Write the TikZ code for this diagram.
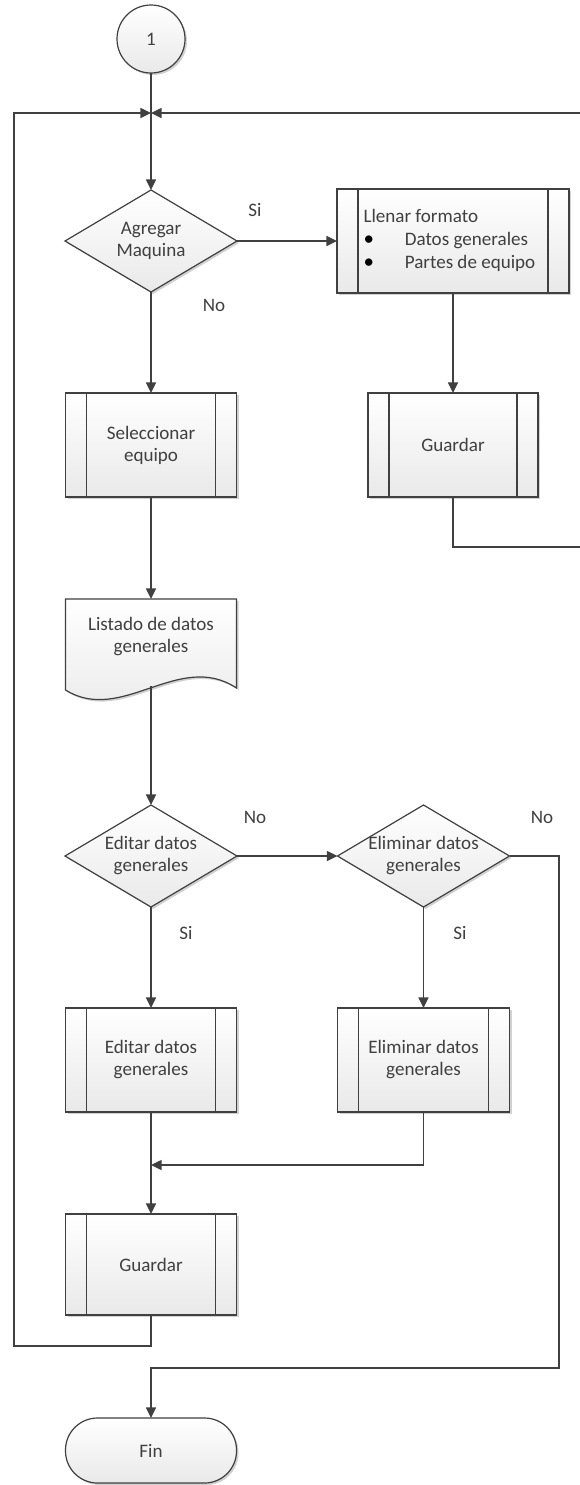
\documentclass[tikz,border=0pt]{standalone}
\usepackage{fontspec}
\setmainfont{Carlito}
\usetikzlibrary{shapes.geometric,arrows.meta,shadows}
\definecolor{ink}{HTML}{404040}
\definecolor{shapefill}{HTML}{E9E9E9}
\newcommand{\bigbullet}{\makebox[31pt][l]{\textcolor{black}{\scalebox{1.1}{\textbullet}}}}
\begin{document}
\begin{tikzpicture}[x=0.75pt,y=-0.75pt,
  every node/.style={outer sep=0pt, inner sep=0pt},
  txt/.style={font=\fontsize{14.3pt}{16.5pt}\selectfont, text=ink, align=center},
  shp/.style={draw=ink, line width=0.9pt, top color=white, bottom color=shapefill,
    drop shadow={shadow xshift=1.5pt, shadow yshift=-1.5pt, opacity=0.18, fill=black}},
  proc/.style={shp, rectangle,
    path picture={
      \draw[ink, line width=0.9pt]
        ([xshift=15.75pt]path picture bounding box.north west) -- ([xshift=15.75pt]path picture bounding box.south west)
        ([xshift=-15.75pt]path picture bounding box.north east) -- ([xshift=-15.75pt]path picture bounding box.south east);}},
  dia/.style={shp, diamond, minimum width=129pt, minimum height=76.5pt},
  conn/.style={draw=ink, line width=1.1pt},
  arr/.style={conn, -{Triangle[length=8pt,width=7.5pt]}},
]
% page
\path[fill=white, use as bounding box] (0,0) rectangle (579,1485);

% shapes
\node[shp, circle, minimum size=51pt] (start) at (151,39) {};
\node[txt] (startt) at (start) {1};

\node[dia] (dec1) at (151,241) {};
\node[txt] (dec1t) at (dec1) {Agregar\\Maquina};

\node[proc, minimum width=174pt, minimum height=78pt] (fill) at (453,241) {};
\node[txt, align=left, anchor=west, font=\fontsize{14.3pt}{17.25pt}\selectfont] (fillt) at (363.5,240)
  {Llenar formato\\\bigbullet Datos generales\\\bigbullet Partes de equipo};

\node[proc, minimum width=127.5pt, minimum height=78pt] (save1) at (453,445) {};
\node[txt] (save1t) at (save1) {Guardar};

\node[proc, minimum width=128.25pt, minimum height=78pt] (sel) at (151,445) {};
\node[txt] (selt) at (sel) {Seleccionar\\equipo};

% document shape with wavy bottom
\node[minimum width=128.25pt, minimum height=68.25pt] (list) at (151,644.5) {};
\path[shp] (list.north west) -- (list.north east) -- (236.5,688)
  .. controls (179,650) and (122,725) .. (65.5,690) -- cycle;
\node[txt] (listt) at (151,637) {Listado de datos\\generales};
\coordinate (listbot) at (151,686);

\node[dia] (dec2) at (151,856) {};
\node[txt] (dec2t) at (dec2) {Editar datos\\generales};

\node[dia] (dec3) at (423.5,856) {};
\node[txt] (dec3t) at (dec3) {Eliminar datos\\generales};

\node[proc, minimum width=128.25pt, minimum height=78pt] (edit) at (151,1060) {};
\node[txt] (editt) at (edit) {Editar datos\\generales};

\node[proc, minimum width=129pt, minimum height=78pt] (del) at (423.5,1060) {};
\node[txt] (delt) at (del) {Eliminar datos\\generales};

\node[proc, minimum width=128.25pt, minimum height=75.75pt] (save2) at (151,1264.5) {};
\node[txt] (save2t) at (save2) {Guardar};

\node[shp, rectangle, rounded corners=24pt, minimum width=128.25pt, minimum height=48.75pt] (fin) at (151,1450.5) {};
\node[txt] (fint) at (fin) {Fin};

% routing points
\coordinate (junc) at (151,113);
\coordinate (rb) at (583,547);
\coordinate (rt) at (583,113);
\coordinate (merge) at (151,1165);
\coordinate (lb) at (14,1346);
\coordinate (rd) at (559,1368);

% connectors
\draw[arr] (start) -- (dec1);
\draw[arr] (dec1) -- (fill);
\draw[arr] (fill) -- (save1);
\draw[arr] (save1) |- (rb) -- (rt) -- (junc);
\draw[arr] (dec1) -- (sel);
\draw[arr] (sel) -- (list);
\draw[arr] (listbot) -- (dec2);
\draw[arr] (dec2) -- (dec3);
\draw[arr] (dec2) -- (edit);
\draw[arr] (dec3) -- (del);
\draw[arr] (del) |- (merge);
\draw[arr] (edit) -- (save2);
\draw[arr] (save2) |- (lb) |- (junc);
\draw[arr] (dec3) -| (rd) -| (fin);

% branch labels
\node[txt] (l1) at (255,210) {Si};
\node[txt] (l2) at (214,305) {No};
\node[txt] (l3) at (255,817) {No};
\node[txt] (l4) at (542,817) {No};
\node[txt] (l5) at (186,933) {Si};
\node[txt] (l6) at (460,933) {Si};
\end{tikzpicture}
\end{document}
